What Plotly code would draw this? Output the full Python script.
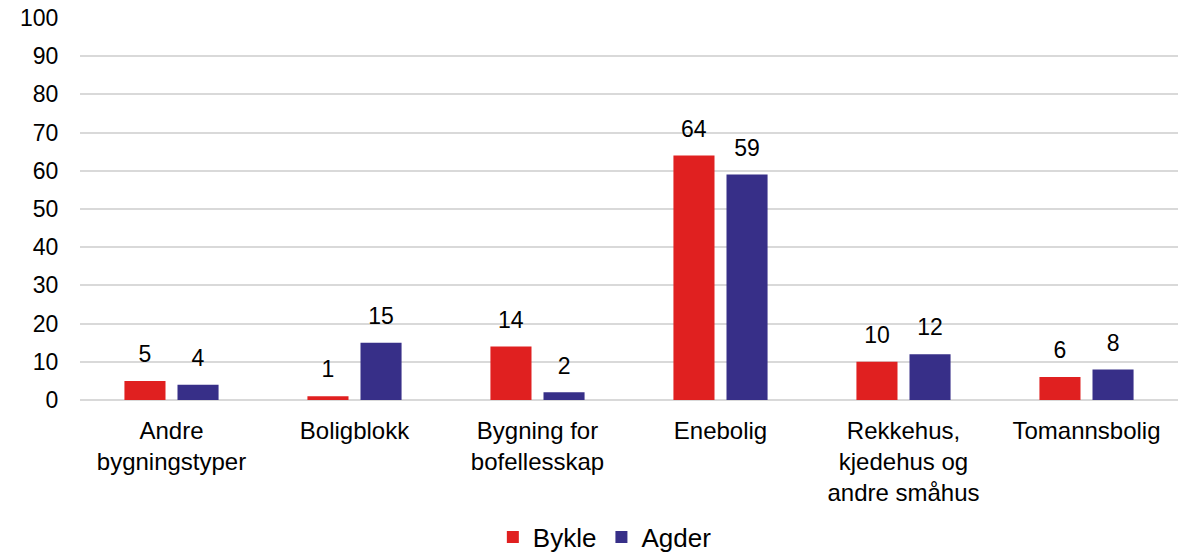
import plotly.graph_objects as go

categories = ["Andre<br>bygningstyper", "Boligblokk", "Bygning for<br>bofellesskap",
              "Enebolig", "Rekkehus,<br>kjedehus og<br>andre småhus", "Tomannsbolig"]
bykle = [5, 1, 14, 64, 10, 6]
agder = [4, 15, 2, 59, 12, 8]
series_names = ["Bykle", "Agder"]
colors = ["#E02020", "#372F88"]
y_ticks = list(range(0, 101, 10))

FONT = "Liberation Sans, Arial, sans-serif"
LABEL_PAD = 2.8  # invisible spacer (in axis units) lifting the value labels off the bars

fig = go.Figure()
for i, (name, vals, col) in enumerate(zip(series_names, [bykle, agder], colors)):
    fig.add_trace(go.Bar(
        x=categories, y=vals, name=name, marker=dict(color=col, line=dict(width=0)),
        offsetgroup=str(i), hoverinfo="x+y+name",
    ))
for i, vals in enumerate([bykle, agder]):
    fig.add_trace(go.Bar(
        x=categories, y=[LABEL_PAD] * len(vals), base=vals,
        marker=dict(color="rgba(0,0,0,0)", line=dict(width=0)),
        offsetgroup=str(i), showlegend=False,
        text=[str(v) for v in vals], textposition="outside",
        textfont=dict(size=23, color="#000000", family=FONT),
        cliponaxis=False, hoverinfo="skip",
    ))

fig.update_layout(
    width=1186, height=553,
    margin=dict(l=80, r=8, t=18, b=153, autoexpand=False),
    paper_bgcolor="white", plot_bgcolor="white",
    barmode="group", bargap=0.42, bargroupgap=0.226,
    font=dict(family=FONT, size=23, color="#000000"),
    showlegend=True,
    legend=dict(orientation="h", x=0.478, xanchor="center", y=-0.359, yanchor="middle",
                font=dict(size=26, color="#000000"), itemwidth=30, traceorder="normal"),
)
fig.update_xaxes(showgrid=False, showline=False, zeroline=False, automargin=False,
                 ticks="outside", ticklen=9, tickcolor="rgba(0,0,0,0)",
                 tickfont=dict(size=24, color="#000000"), tickangle=0)
fig.update_yaxes(range=[0, 100], tickvals=y_ticks, showgrid=True, gridcolor="#D9D9D9",
                 gridwidth=1.5, zeroline=True, zerolinecolor="#D9D9D9", zerolinewidth=1.5,
                 showline=False, automargin=False, ticks="outside", ticklen=16,
                 tickcolor="rgba(0,0,0,0)", tickfont=dict(size=23, color="#000000"))

fig.write_html("out.html", config={"displayModeBar": False},
               post_script="document.body.style.margin='0';")
